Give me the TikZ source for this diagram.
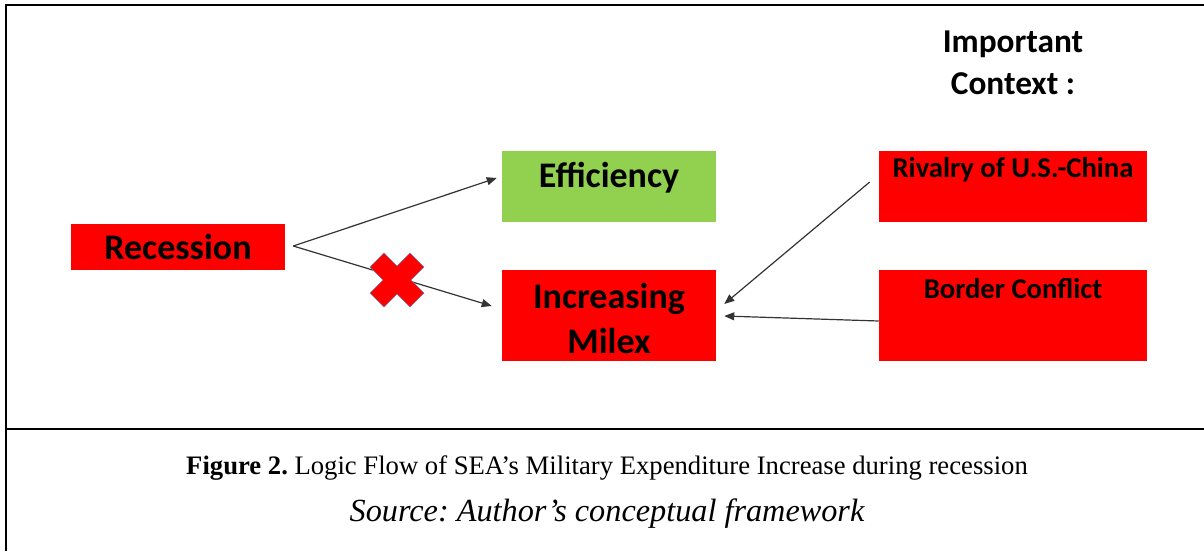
\documentclass[tikz,border=0pt]{standalone}
\usepackage{fontspec}
\setmainfont{Liberation Serif}
\newfontfamily\calibri{Carlito}
\usetikzlibrary{arrows.meta,calc}
\frenchspacing
\definecolor{boxred}{HTML}{FF0000}
\definecolor{boxgreen}{HTML}{92D050}
\definecolor{crossedge}{HTML}{6A7FA0}
\tikzset{
  box/.style={fill=#1, draw=none, inner sep=0pt, minimum width={214*0.75pt}},
  ctxbox/.style={fill=boxred, draw=none, inner sep=0pt, minimum width={268*0.75pt}, minimum height={71*0.75pt}},
  bigtxt/.style={font=\calibri\bfseries\fontsize{27}{33.75}\selectfont, align=center},
  midtxt/.style={font=\calibri\bfseries\fontsize{21.5}{26}\selectfont, inner sep=0pt},
  headtxt/.style={font=\calibri\bfseries\fontsize{25}{31.5}\selectfont, align=center},
  arr/.style={draw=black!80, line width=0.9pt, -{Triangle[length=7.5pt,width=6pt]}},
  frame/.style={line width=1.9pt, black},
}
\begin{document}
\begin{tikzpicture}[x=0.75pt, y=-0.75pt]
\useasboundingbox (0,0) rectangle (1204,551);
% outer frame and caption rule
\draw[frame] (6,551) -- (6,5) -- (1204,5);
\draw[frame] (6,429) -- (1204,429);

% main boxes
\node[box=boxred, minimum height={46*0.75pt}] (rec) at (178,246.5) {};
\node[bigtxt] (rect) at (rec) {Recession};
\node[box=boxgreen, minimum height={71*0.75pt}] (eff) at (609,186.5) {};
\node[bigtxt] (efft) at ($(eff)+(0,-9)$) {Efficiency};
\node[box=boxred, minimum height={91*0.75pt}] (inc) at (609,315.5) {};
\node[bigtxt] (inct) at ($(inc)+(0,3)$) {Increasing\\Milex};

% context boxes
\node[headtxt] (head) at (1013,63) {Important\\Context :};
\node[ctxbox] (riv) at (1013,186.5) {};
\node[midtxt] (rivt) at ($(riv.north)+(0,19)$) {Rivalry of U.S.-China};
\node[ctxbox, minimum height={91*0.75pt}] (bor) at (1013,315.5) {};
\node[midtxt] (bort) at ($(bor.north)+(0,19)$) {Border Conflict};

% connectors
\draw[arr] ($(rec.east)+(8,-0.5)$) -- ($(eff.west)+(-5,-8.5)$);
\draw[arr] ($(rec.east)+(8,-0.5)$) -- ($(inc.west)+(-10,-9.5)$);
\draw[arr] ($(riv.west)+(-9,-4.5)$) -- ($(inc.east)+(8,-11.5)$);
\draw[arr] ($(bor.west)+(0,5.5)$) -- ($(inc.east)+(8,0.5)$);

% red cross over the rejected link
\coordinate (x) at (397,280);
\filldraw[fill=boxred, draw=crossedge, line width=0.5pt, shift={(x)}]
  (-27,-13) -- (-13,-27) -- (0,-14) -- (13,-27) -- (27,-13) -- (14,0)
  -- (27,13) -- (13,27) -- (0,14) -- (-13,27) -- (-27,13) -- (-14,0) -- cycle;

% caption
\node[font=\fontsize{20}{24}\selectfont] (cap) at (607,468)
  {\textbf{Figure 2.} Logic Flow of SEA’s Military Expenditure Increase during recession};
\node[font=\itshape\fontsize{24.2}{30}\selectfont] (src) at (607,514)
  {Source: Author’s conceptual framework};
\end{tikzpicture}
\end{document}
